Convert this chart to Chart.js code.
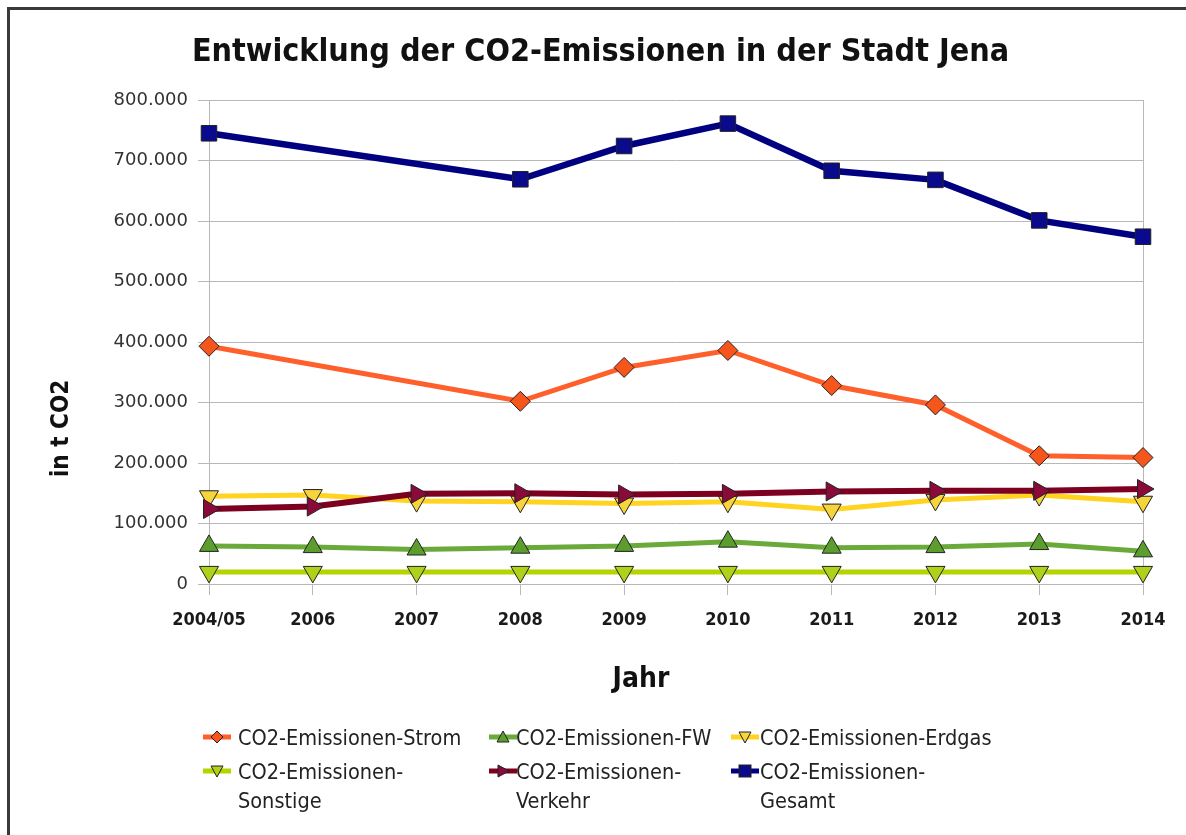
<!DOCTYPE html>
<html>
<head>
<meta charset="utf-8">
<script src="https://cdn.jsdelivr.net/npm/chart.js@4/dist/chart.umd.min.js"></script>
<style>
html,body{margin:0;padding:0;background:#fff;overflow:hidden;width:1186px;height:835px;}
#wrap{position:relative;width:1186px;height:835px;overflow:hidden;}
#frame{position:absolute;left:7px;top:7px;width:1300px;height:1000px;border:3px solid #3a3a3a;box-sizing:border-box;}
#c{position:absolute;left:0;top:0;}
.item{position:absolute;font-family:'DejaVu Sans Condensed','Liberation Sans Narrow','Roboto Condensed',sans-serif;font-size:21.5px;color:#222;line-height:29px;white-space:nowrap;}
.mk{position:absolute;}
</style>
</head>
<body>
<div id="wrap">
  <div id="frame"></div>
  <canvas id="c" width="1186" height="835"></canvas>
  <div id="legend"></div>
</div>
<script>
// ---- data ----
const categories = ['2004/05','2006','2007','2008','2009','2010','2011','2012','2013','2014'];
const seriesNames = ['CO2-Emissionen-Strom','CO2-Emissionen-FW','CO2-Emissionen-Erdgas','CO2-Emissionen-Sonstige','CO2-Emissionen-Verkehr','CO2-Emissionen-Gesamt'];
const strom    = [393000, null, null, 302000, 358000, 386000, 328000, 296000, 212000, 209000];
const fw       = [63000, 61000, 57000, 60000, 63000, 70000, 60000, 61000, 66000, 54000];
const erdgas   = [145000, 147000, 137000, 136000, 133000, 136000, 123000, 139000, 147000, 136000];
const sonstige = [20000, 20000, 20000, 20000, 20000, 20000, 20000, 20000, 20000, 20000];
const verkehr  = [124000, 128000, 149000, 150000, 148000, 149000, 153000, 154000, 154000, 157000];
const gesamt   = [745000, null, null, 669000, 724000, 761000, 683000, 668000, 601000, 574000];
const yTicks   = [0, 100000, 200000, 300000, 400000, 500000, 600000, 700000, 800000];

const titleText = 'Entwicklung der CO2-Emissionen in der Stadt Jena';
const yTitle = 'in t CO2';
const xTitle = 'Jahr';

// ---- styles ----
const condensed = "'DejaVu Sans Condensed','Liberation Sans Narrow','Roboto Condensed',sans-serif";
const gridCol = '#b8b8b8';
const styles = [
  {line:'#ff5f2a', fill:'#f6561c', shape:'rectRot', rot:0,   r:10, w:5, order:5, legend:'diamond'},
  {line:'#6aaa3a', fill:'#5c9e2e', shape:'triangle', rot:0,  r:11, w:5, order:4, legend:'up'},
  {line:'#ffd320', fill:'#f5d43c', shape:'triangle', rot:180,r:11, w:5, order:3, legend:'down'},
  {line:'#b4d400', fill:'#aed11a', shape:'triangle', rot:180,r:11, w:5, order:2, legend:'down'},
  {line:'#7e0021', fill:'#8a0a3a', shape:'triangle', rot:90, r:11, w:6, order:1, legend:'right'},
  {line:'#000080', fill:'#0a0a8c', shape:'rect',     rot:0,  r:11, w:6.5, order:0, legend:'square'}
];
const values = [strom, fw, erdgas, sonstige, verkehr, gesamt];

const datasets = values.map((v, i) => ({
  label: seriesNames[i],
  data: v,
  borderColor: styles[i].line,
  backgroundColor: styles[i].fill,
  borderWidth: styles[i].w,
  pointStyle: styles[i].shape,
  pointRotation: styles[i].rot,
  pointRadius: styles[i].r,
  pointBorderColor: '#222',
  pointBorderWidth: 1,
  pointBackgroundColor: styles[i].fill,
  spanGaps: true,
  tension: 0,
  order: styles[i].order
}));

function fmt(v){ return String(v).replace(/\B(?=(\d{3})+(?!\d))/g, '.'); }

new Chart(document.getElementById('c'), {
  type: 'line',
  data: { labels: categories, datasets: datasets },
  options: {
    responsive: false,
    devicePixelRatio: 1,
    animation: false,
    layout: { padding: { left: 58, right: 43, top: 0, bottom: 138 } },
    plugins: {
      legend: { display: false },
      tooltip: { enabled: false },
      title: {
        display: true,
        text: titleText,
        color: '#111',
        font: { family: condensed, size: 32, weight: 'bold', lineHeight: 1.2 },
        padding: { top: 33, bottom: 28.6 }
      }
    },
    scales: {
      x: {
        offset: false,
        afterFit: s => { s.height = 113; },
        grid: {
          display: true,
          drawOnChartArea: true,
          color: ctx => (ctx.index === categories.length - 1 ? gridCol : 'rgba(0,0,0,0)'),
          tickColor: gridCol,
          tickLength: 11,
          lineWidth: 1
        },
        border: { display: true, color: gridCol, width: 1 },
        ticks: {
          color: '#1a1a1a',
          padding: 15,
          maxRotation: 0,
          autoSkip: false,
          font: { family: condensed, size: 18, weight: 'bold' }
        },
        title: {
          display: true,
          text: xTitle + '\u00a0'.repeat(8),
          color: '#111',
          font: { family: condensed, size: 28, weight: 'bold', lineHeight: 1.2 },
          padding: { top: 0, bottom: 0 }
        }
      },
      y: {
        min: 0,
        max: 800000,
        afterFit: s => { s.width = 151; },
        afterBuildTicks: s => { s.ticks = yTicks.map(v => ({ value: v })); },
        grid: { color: gridCol, tickColor: gridCol, tickLength: 11, lineWidth: 1 },
        border: { display: true, color: gridCol, width: 1 },
        ticks: {
          color: '#333',
          padding: 10,
          font: { family: "'DejaVu Sans',sans-serif", size: 18 },
          callback: v => fmt(v)
        },
        title: {
          display: true,
          text: yTitle + '\u00a0'.repeat(23),
          color: '#111',
          font: { family: condensed, size: 24, weight: 'bold', lineHeight: 1.2 },
          padding: { top: -11, bottom: 0 }
        }
      }
    }
  }
});

// ---- HTML legend (two rows, three columns) ----
const legendPos = [
  {mx:217, tx:238, ty:722.5, text:['CO2-Emissionen-Strom']},
  {mx:503, tx:516, ty:722.5, text:['CO2-Emissionen-FW']},
  {mx:745, tx:760, ty:722.5, text:['CO2-Emissionen-Erdgas']},
  {mx:217, tx:238, ty:756.5, text:['CO2-Emissionen-','Sonstige']},
  {mx:503, tx:516, ty:756.5, text:['CO2-Emissionen-','Verkehr']},
  {mx:745, tx:760, ty:756.5, text:['CO2-Emissionen-','Gesamt']}
];
function shapeSvg(kind, fill){
  const cx = 14, cy = 10;
  let s = '';
  if (kind === 'diamond') s = `<polygon points="${cx},${cy-6} ${cx+6},${cy} ${cx},${cy+6} ${cx-6},${cy}" fill="${fill}" stroke="#222" stroke-width="1"/>`;
  if (kind === 'up') s = `<polygon points="${cx},${cy-6} ${cx+6},${cy+5} ${cx-6},${cy+5}" fill="${fill}" stroke="#222" stroke-width="1"/>`;
  if (kind === 'down') s = `<polygon points="${cx-6},${cy-5} ${cx+6},${cy-5} ${cx},${cy+6}" fill="${fill}" stroke="#222" stroke-width="1"/>`;
  if (kind === 'right') s = `<polygon points="${cx-5},${cy-6} ${cx+6},${cy} ${cx-5},${cy+6}" fill="${fill}" stroke="#222" stroke-width="1"/>`;
  if (kind === 'square') s = `<rect x="${cx-6}" y="${cy-6}" width="12" height="12" fill="${fill}" stroke="#222" stroke-width="1"/>`;
  return s;
}
const lg = document.getElementById('legend');
legendPos.forEach((p, i) => {
  const st = styles[i];
  const svg = document.createElementNS('http://www.w3.org/2000/svg','svg');
  svg.setAttribute('width','28'); svg.setAttribute('height','20');
  svg.setAttribute('class','mk');
  svg.style.left = (p.mx - 14) + 'px';
  svg.style.top = (p.ty + 14.5 - 10) + 'px';
  svg.innerHTML = `<line x1="0" y1="10" x2="28" y2="10" stroke="${st.line}" stroke-width="5"/>` + shapeSvg(st.legend, st.fill);
  lg.appendChild(svg);
  const d = document.createElement('div');
  d.className = 'item';
  d.style.left = p.tx + 'px';
  d.style.top = p.ty + 'px';
  d.innerHTML = p.text.join('<br>');
  lg.appendChild(d);
});
</script>
</body>
</html>
